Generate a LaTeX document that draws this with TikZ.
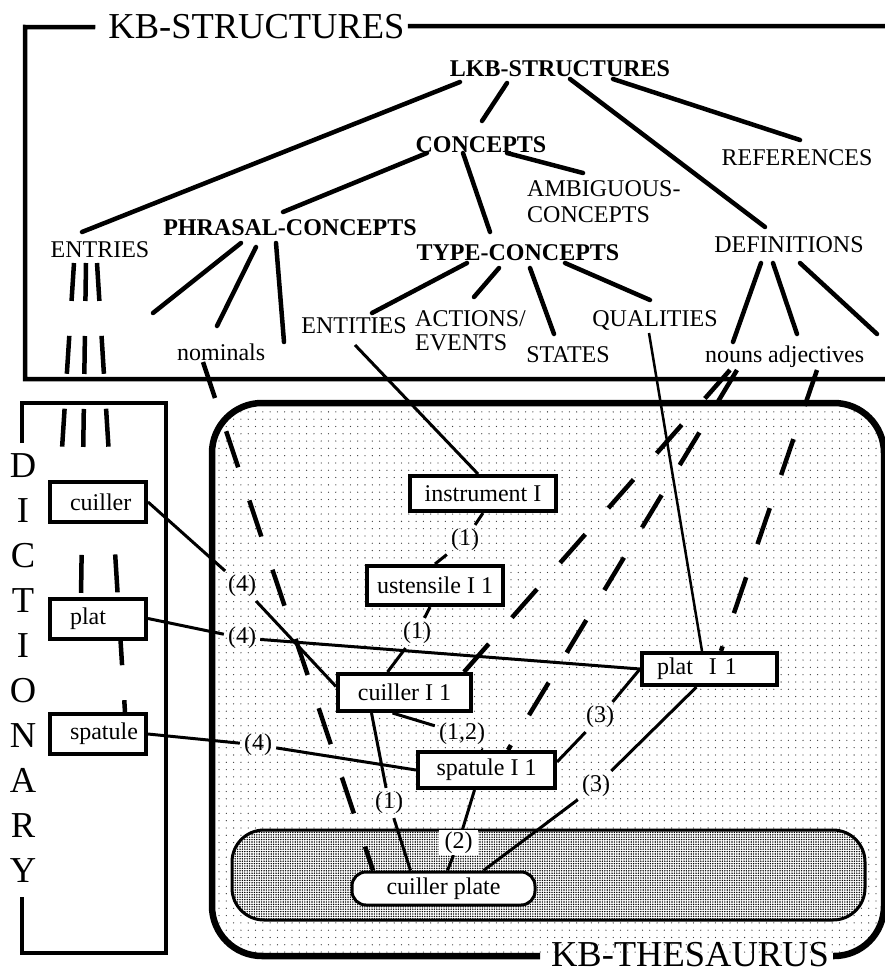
\documentclass[tikz,border=0pt]{standalone}
\usepackage{fontspec}
\setmainfont{Liberation Serif}
\usetikzlibrary{patterns.meta}
\newcommand\myfs{\fontsize{24}{26}\selectfont}
\newcommand\mybigfs{\fontsize{36.5}{40}\selectfont}
\newcommand\rel[3]{([shift={(#2,#3)}]#1)}
\pgfdeclarelayer{bgA}
\pgfdeclarelayer{bgB}
\pgfsetlayers{bgA,bgB,main}
\tikzset{
  tree/.style={line width=4.5pt, line cap=round},
  dashline/.style={line width=4.5pt, dash pattern=on 38pt off 35pt},
  conn/.style={line width=3pt},
  thinconn/.style={line width=2.5pt},
  txt/.style={inner sep=0pt, font=\myfs},
  btxt/.style={inner sep=0pt, font=\myfs\bfseries},
  tbox/.style={draw, line width=4pt, fill=white, inner sep=0pt, font=\myfs},
  dbox/.style={tbox, minimum width=96pt, minimum height=40pt, text width=80pt, align=left, inner xsep=8pt},
  lbl/.style={inner sep=4pt, font=\myfs},
  big/.style={inner sep=0pt, font=\mybigfs},
  frame/.style={line width=4.5pt},
}
\begin{document}
\begin{tikzpicture}[x=1pt,y=-1pt]
\useasboundingbox (0,0) rectangle (884,974);

% ---------- thesaurus area ----------
\begin{pgfonlayer}{bgA}
  \fill[rounded corners=50pt, pattern={Dots[distance=7.3pt, radius=0.65pt]}, pattern color=black!75] (212,403) rectangle (884,956);
  \draw[line width=6.5pt, rounded corners=50pt] (540,956) -- (212,956) -- (212,403) -- (884,403) -- (884,956) -- (833,956);
  \draw[line width=3pt, rounded corners=32pt, preaction={fill=white}, pattern={Dots[distance=2.4pt, radius=0.8pt]}, pattern color=black] (232,830) rectangle (865,920);
\end{pgfonlayer}

% ---------- top frame ----------
\node[big, anchor=base] (kbs) at (256.5,38) {KB-STRUCTURES};
\draw[frame] \rel{kbs.west}{-13}{1} -- (25,27) -- (25,379) -- (890,379);
\draw[frame] \rel{kbs.east}{3}{0} -- (890,26);

% ---------- tree texts ----------
\node[btxt, anchor=base] (lkb) at (560,76) {LKB-STRUCTURES};
\node[btxt, anchor=base] (concepts) at (481,152) {CONCEPTS};
\node[txt, anchor=base] (refs) at (797,165) {REFERENCES};
\node[txt, anchor=base west] (ambig) at (527,196) {AMBIGUOUS-};
\node[txt, anchor=base west] (ambigb) at (527,222) {CONCEPTS};
\node[txt, anchor=base] (entries) at (100,257) {ENTRIES};
\node[btxt, anchor=base] (phrasal) at (290,235) {PHRASAL-CONCEPTS};
\node[btxt, anchor=base] (typec) at (518,260) {TYPE-CONCEPTS};
\node[txt, anchor=base] (defs) at (789,252) {DEFINITIONS};
\node[txt, anchor=base] (entities) at (354,333) {ENTITIES};
\node[txt, anchor=base west] (actions) at (415,326) {ACTIONS/};
\node[txt, anchor=base west] (actionsb) at (415,350) {EVENTS};
\node[txt, anchor=base] (states) at (568,362) {STATES};
\node[txt, anchor=base] (qualities) at (655,326) {QUALITIES};
\node[txt, anchor=base west] (nominals) at (177,360) {nominals};
\node[txt, anchor=base west] (nouns) at (705,362) {nouns};
\node[txt, anchor=base west] (adjectives) at (768,362) {adjectives};
\coordinate (pf1) at (153,313);
\coordinate (pf2) at (284,342);
\coordinate (df3) at (877,334);

% ---------- tree lines ----------
\draw[tree] \rel{lkb.base}{-100}{6} -- \rel{entries.base}{-18}{-25};
\draw[tree] \rel{lkb.base}{-53}{7} -- \rel{concepts.base}{1}{-31};
\draw[tree] \rel{lkb.base}{10}{3} -- \rel{defs.base}{-24}{-25};
\draw[tree] \rel{lkb.base}{53}{3} -- \rel{refs.base}{3}{-25};
\draw[tree] \rel{concepts.base}{-54}{1} -- \rel{phrasal.base}{-7}{-23};
\draw[tree] \rel{concepts.base}{-18}{1} -- \rel{typec.base}{-28}{-28};
\draw[tree] \rel{concepts.base}{26}{1} -- \rel{ambig.base west}{56}{-23};
\draw[tree] \rel{phrasal.base}{-49}{8} -- (pf1);
\draw[tree] \rel{phrasal.base}{-34}{12} -- \rel{nominals.base west}{40}{-34};
\draw[tree] \rel{phrasal.base}{-14}{8} -- (pf2);
\draw[tree] \rel{typec.base}{-51}{3} -- \rel{entities.base}{18}{-20};
\draw[tree] \rel{typec.base}{-19}{8} -- \rel{actions.base west}{59}{-29};
\draw[tree] \rel{typec.base}{12}{8} -- \rel{states.base}{-14}{-28};
\draw[tree] \rel{typec.base}{47}{3} -- \rel{qualities.base}{-5}{-26};
\draw[tree] \rel{defs.base}{-28}{11} -- \rel{nouns.base west}{28}{-20};
\draw[tree] \rel{defs.base}{-16}{11} -- \rel{adjectives.base west}{29}{-28};
\draw[tree] \rel{defs.base}{11}{11} -- (df3);

% ---------- dictionary ----------
\draw[frame] (22,443) -- (22,403) -- (166,403) -- (166,953) -- (22,953) -- (22,897);
\foreach \l [count=\i from 0] in {D,I,C,T,I,O,N,A,R,Y}
  \node[big, anchor=base] (dict\i) at (23,477+45.1*\i) {\l};
\node[dbox] (cuillerD) at (98,502) {\hspace*{12pt}cuiller};
\node[dbox] (platD) at (98,618.5) {\hspace*{12pt}plat};
\node[dbox] (spatD) at (98,734) {\hspace*{12pt}spatule};

% ---------- thesaurus nodes ----------
\node[tbox, minimum width=146pt, minimum height=35pt] (instr) at (483,493.5) {instrument I};
\node[tbox, minimum width=136pt, minimum height=39pt] (ust) at (435,585.5) {ustensile I 1};
\node[tbox, minimum width=133pt, minimum height=37pt] (cuiT) at (404.5,692.5) {cuiller I 1};
\node[tbox, minimum width=137pt, minimum height=36pt] (spatT) at (486.5,770) {spatule I 1};
\node[tbox, minimum width=135pt, minimum height=32pt, text width=105pt, inner xsep=15pt, align=left] (platT) at (709.5,669) {plat\ \ I 1};
\node[draw, line width=3pt, rounded corners=14pt, fill=white, minimum width=183pt, minimum height=33pt, inner sep=0pt, font=\myfs] (plate) at (443.5,888.5) {cuiller plate};
\node[big, anchor=base] (thes) at (690,966) {KB-THESAURUS};

% ---------- labels ----------
\node[lbl] (l4a) at (242,586) {(4)};
\node[lbl] (l4b) at (242,638) {(4)};
\node[lbl] (l4c) at (258,745) {(4)};
\node[lbl] (l1a) at (465,540) {(1)};
\node[lbl] (l1b) at (417,633) {(1)};
\node[lbl] (l12) at (462,734) {(1,2)};
\node[lbl] (l1c) at (389,803) {(1)};
\node[lbl, fill=white, inner xsep=6pt, inner ysep=1.5pt] (l2) at (458.5,842.5) {(2)};
\node[lbl] (l3a) at (600,717) {(3)};
\node[lbl] (l3b) at (596,786) {(3)};

% ---------- connectors under the boxes ----------
\begin{pgfonlayer}{bgB}
  \draw[dashline] \rel{entries.base}{-26}{6} -- \rel{cuillerD.north}{-38}{0};
  \draw[dashline] \rel{entries.base}{-14}{6} -- \rel{platD.north}{-17}{0};
  \draw[dashline] \rel{entries.base}{-3}{6} -- \rel{spatD.north}{27}{0};
  \draw[dashline] \rel{nouns.base west}{25}{8} -- \rel{cuiT.north east}{-9}{0};
  \draw[dashline] \rel{nouns.base west}{32}{8} -- \rel{spatT.north}{21.5}{0};
  \draw[dashline] \rel{adjectives.base west}{49}{8} -- \rel{platT.north}{11.5}{0};
  \draw[dashline] \rel{nominals.base west}{26}{2} -- \rel{plate.north}{-70.5}{0};
  \draw[conn] \rel{entities.base}{1}{12} -- \rel{instr.north}{-5}{0};
  \draw[thinconn] \rel{qualities.base}{-6}{7} -- \rel{platT.north}{-7.5}{0};

  \draw[conn] (cuillerD.east) -- (l4a) -- \rel{cuiT.west}{0}{-6};
  \draw[conn] (platD.east) -- (l4b) -- (platT.west);
  \draw[conn] (spatD.east) -- (l4c) -- (spatT.west);
  \draw[conn] (instr.south) -- (l1a) -- (ust.north);
  \draw[conn] \rel{ust.south}{-5}{0} -- (l1b) -- \rel{cuiT.north}{-17}{0};
  \draw[conn] \rel{cuiT.south}{-12}{0} -- (l12) -- \rel{spatT.north}{-4}{0};
  \draw[conn] \rel{cuiT.south}{-33}{0} -- (l1c) -- \rel{plate.north}{-33}{0};
  \draw[conn] \rel{spatT.south}{-12}{0} -- (l2) -- \rel{plate.north}{4}{0};
  \draw[conn] (platT.west) -- (l3a) -- \rel{spatT.east}{0}{-8};
  \draw[conn] \rel{platT.south}{-13}{0} -- (l3b) -- \rel{plate.north}{40}{0};
\end{pgfonlayer}
\end{tikzpicture}
\end{document}
